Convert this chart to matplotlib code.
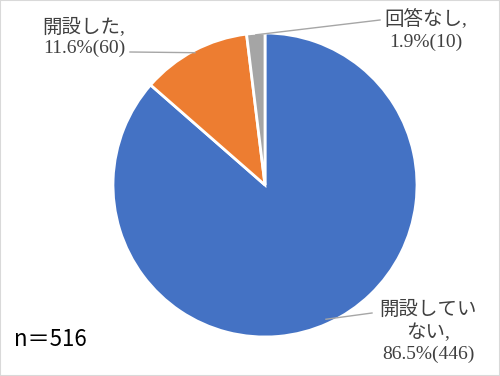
import numpy as np
import matplotlib
matplotlib.use("Agg")
import matplotlib.pyplot as plt
from matplotlib.patches import Rectangle

# data
categories = ["開設していない", "開設した", "回答なし"]
counts = [446, 60, 10]
percents = ["86.5%", "11.6%", "1.9%"]
colors = ["#4472C4", "#ED7D31", "#A5A5A5"]
n_total = 516

label_font = ["Liberation Serif", "Noto Sans CJK JP"]

fig = plt.figure(figsize=(5.0, 3.76), dpi=100)
ax = fig.add_axes([0, 0, 1, 1])
ax.set_aspect("equal")
ax.axis("off")

cx, cy, r = 265, 376 - 185, 152
wedges, _ = ax.pie(counts, colors=colors, startangle=90, counterclock=False,
                   center=(cx, cy), radius=r,
                   wedgeprops=dict(edgecolor="white", linewidth=2))
ax.set_xlim(0, 500)
ax.set_ylim(0, 376)

# label texts (layout in pixels from top-left)
label_text = [
    f"{categories[0][:5]}\n{categories[0][5:]},\n{percents[0]}({counts[0]})",
    f"{categories[1]},\n{percents[1]}({counts[1]})",
    f"{categories[2]},\n{percents[2]}({counts[2]})",
]
label_pos = [(428, 332), (84, 37), (426, 30)]
line_end = [(372, 313), (130, 52), (380, 20)]
line_r = [0.97, 0.985, 0.99]

for w, txt, (tx, ty), (lx, ly), rr in zip(wedges, label_text, label_pos, line_end, line_r):
    ang = np.deg2rad((w.theta1 + w.theta2) / 2)
    px = cx + r * rr * np.cos(ang)
    py = cy + r * rr * np.sin(ang)
    ax.plot([px, lx], [py, 376 - ly], color="#A6A6A6", lw=1)
    ax.text(tx, 376 - ty, txt, ha="center", va="center", fontsize=14,
            color="#404040", family=label_font, linespacing=1.3)

ax.text(14, 376 - 340, f"n＝{n_total}", ha="left", va="center", fontsize=16,
        color="black", family=["Noto Sans CJK JP", "DejaVu Sans"])

fig.patches.append(Rectangle((0, 0), 1, 1, transform=fig.transFigure,
                             fill=False, edgecolor="#D9D9D9", lw=1.5))

fig.savefig("out.png", dpi=100)
